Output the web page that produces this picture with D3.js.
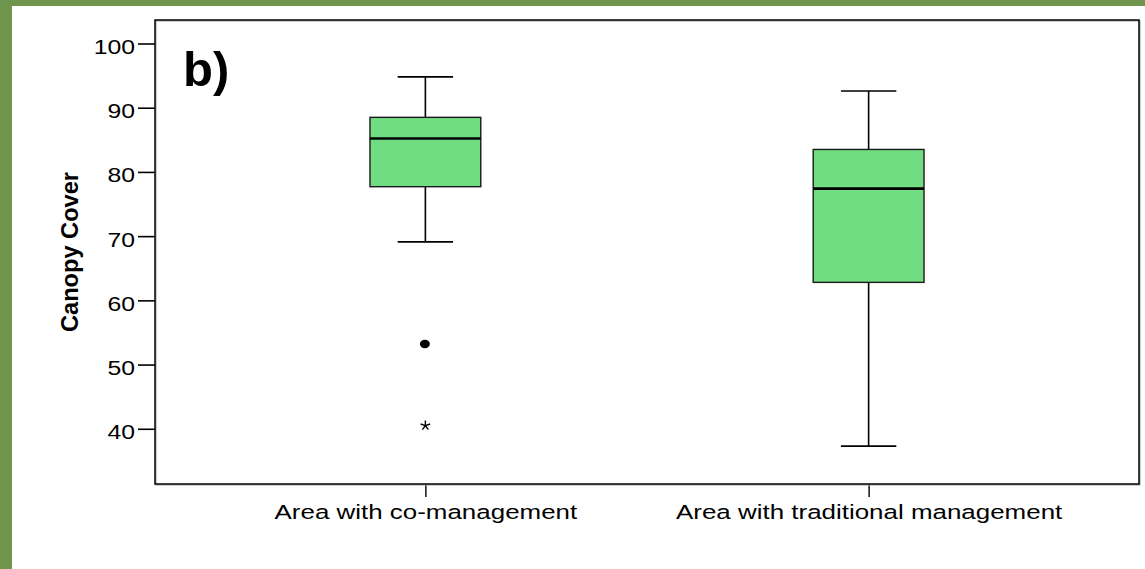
<!DOCTYPE html>
<html>
<head>
<meta charset="utf-8">
<script src="https://cdn.jsdelivr.net/npm/d3@7"></script>
<style>
  html, body { margin: 0; padding: 0; background: #ffffff; }
  svg { display: block; }
</style>
</head>
<body>
<svg id="chart" width="1145" height="569"></svg>
<script>
// Canopy cover by management regime (box plot summary)
const categories = ["Area with co-management", "Area with traditional management"];
const whiskerLow  = [69.1, 37.3];
const q1          = [77.7, 62.8];
const median      = [85.2, 77.4];
const q3          = [88.5, 83.5];
const whiskerHigh = [94.8, 92.6];

// Outliers: "circle" = mild outlier, "extreme" = extreme value
const outlierGroup = [0, 0];
const outlierValue = [53.2, 40.5];
const outlierType  = ["circle", "extreme"];

const yTicks = [40, 50, 60, 70, 80, 90, 100];
const panelLabel = "b)";
const yTitle = "Canopy Cover";

const W = 1145, H = 569;
const frame = { left: 155, right: 1139, top: 20, bottom: 484 };
const green = "#6f954d";
const boxFill = "#70dd82";
const FONT = "Liberation Sans, Arial, Helvetica, sans-serif";

const svg = d3.select("#chart");

// page border strips
svg.append("rect").attr("x", 0).attr("y", 0).attr("width", W).attr("height", 6).attr("fill", green);
svg.append("rect").attr("x", 0).attr("y", 0).attr("width", 12).attr("height", H).attr("fill", green);

const y = d3.scaleLinear().domain([31.4, 103.66]).range([frame.bottom, frame.top]);
const x = d3.scalePoint().domain(categories).range([frame.left, frame.right]).padding(0.61);
const step = x.step();
const boxW = step * 0.25;
const capW = boxW / 2;

// y axis
const yAxis = svg.append("g")
  .attr("transform", `translate(${frame.left},0)`)
  .call(d3.axisLeft(y).tickValues(yTicks).tickSize(17).tickPadding(0).tickFormat(d3.format("d")));
yAxis.select(".domain").remove();
yAxis.selectAll(".tick line").attr("stroke", "#000").attr("stroke-width", 1.6);
yAxis.selectAll(".tick text")
  .attr("x", null).attr("dy", null)
  .attr("transform", "translate(-20,10) scale(1.18,1)")
  .attr("text-anchor", "end")
  .attr("fill", "#000")
  .style("font-family", FONT)
  .style("font-size", "21px");

// x axis
const xAxis = svg.append("g")
  .attr("transform", `translate(0,${frame.bottom})`)
  .call(d3.axisBottom(x).tickSize(13).tickPadding(0));
xAxis.select(".domain").remove();
xAxis.selectAll(".tick line").attr("stroke", "#000").attr("stroke-width", 1.4);
xAxis.selectAll(".tick text")
  .attr("y", null).attr("dy", null)
  .attr("transform", "translate(0,35) scale(1.33,1)")
  .attr("text-anchor", "middle")
  .attr("fill", "#000")
  .style("font-family", FONT)
  .style("font-size", "19.5px");

// plot frame
svg.append("rect")
  .attr("x", frame.left + 1).attr("y", frame.top + 1)
  .attr("width", frame.right - frame.left).attr("height", frame.bottom - frame.top)
  .attr("fill", "none").attr("stroke", "#aaa").attr("stroke-width", 1.2);
svg.append("rect")
  .attr("x", frame.left).attr("y", frame.top)
  .attr("width", frame.right - frame.left).attr("height", frame.bottom - frame.top)
  .attr("fill", "none").attr("stroke", "#000").attr("stroke-width", 1.5);

// boxes
const boxes = svg.append("g").selectAll("g").data(categories).join("g")
  .attr("transform", d => `translate(${x(d)},0)`);

boxes.each(function(d, i) {
  const g = d3.select(this);
  // whiskers
  g.append("line").attr("x1", 0).attr("x2", 0)
    .attr("y1", y(whiskerHigh[i])).attr("y2", y(q3[i]))
    .attr("stroke", "#000").attr("stroke-width", 1.6);
  g.append("line").attr("x1", 0).attr("x2", 0)
    .attr("y1", y(q1[i])).attr("y2", y(whiskerLow[i]))
    .attr("stroke", "#000").attr("stroke-width", 1.6);
  g.append("line").attr("x1", -capW / 2).attr("x2", capW / 2)
    .attr("y1", y(whiskerHigh[i])).attr("y2", y(whiskerHigh[i]))
    .attr("stroke", "#000").attr("stroke-width", 1.6);
  g.append("line").attr("x1", -capW / 2).attr("x2", capW / 2)
    .attr("y1", y(whiskerLow[i])).attr("y2", y(whiskerLow[i]))
    .attr("stroke", "#000").attr("stroke-width", 1.6);
  // interquartile box
  g.append("rect")
    .attr("x", -boxW / 2).attr("width", boxW)
    .attr("y", y(q3[i])).attr("height", y(q1[i]) - y(q3[i]))
    .attr("fill", boxFill).attr("stroke", "#1a1a1a").attr("stroke-width", 1.4);
  // median
  g.append("line").attr("x1", -boxW / 2).attr("x2", boxW / 2)
    .attr("y1", y(median[i])).attr("y2", y(median[i]))
    .attr("stroke", "#000").attr("stroke-width", 2.6);
});

// five-armed asterisk symbol for extreme values
const symbolStar5 = {
  draw(context, size) {
    const r = Math.sqrt(size) / 2;
    for (let k = 0; k < 5; k++) {
      const a = -Math.PI / 2 + k * 2 * Math.PI / 5;
      context.moveTo(0, 0);
      context.lineTo(r * Math.cos(a), r * Math.sin(a));
    }
  }
};

const outliers = outlierValue.map((v, i) => ({ g: outlierGroup[i], v, t: outlierType[i] }));
const og = svg.append("g");
og.selectAll("ellipse").data(outliers.filter(o => o.t === "circle")).join("ellipse")
  .attr("cx", o => x(categories[o.g]) - 0.5)
  .attr("cy", o => y(o.v))
  .attr("rx", 5).attr("ry", 4.2)
  .attr("fill", "#000");
og.selectAll("path").data(outliers.filter(o => o.t === "extreme")).join("path")
  .attr("transform", o => `translate(${x(categories[o.g])},${y(o.v)})`)
  .attr("d", d3.symbol().type(symbolStar5).size(100))
  .attr("fill", "none").attr("stroke", "#000").attr("stroke-width", 1.4);

// panel label
svg.append("text")
  .attr("x", 183).attr("y", 86)
  .attr("fill", "#000")
  .style("font-family", FONT)
  .style("font-weight", "bold")
  .style("font-size", "49px")
  .text(panelLabel);

// y axis title, fitted to a 160px run along the axis
const title = svg.append("text")
  .attr("text-anchor", "middle")
  .attr("fill", "#000")
  .style("font-family", FONT)
  .style("font-weight", "bold")
  .style("font-size", "23px")
  .text(yTitle);
const tl = title.node().getComputedTextLength() || 160;
title.attr("transform", `translate(78,252) rotate(-90) scale(${160 / tl},1)`);
</script>
</body>
</html>
